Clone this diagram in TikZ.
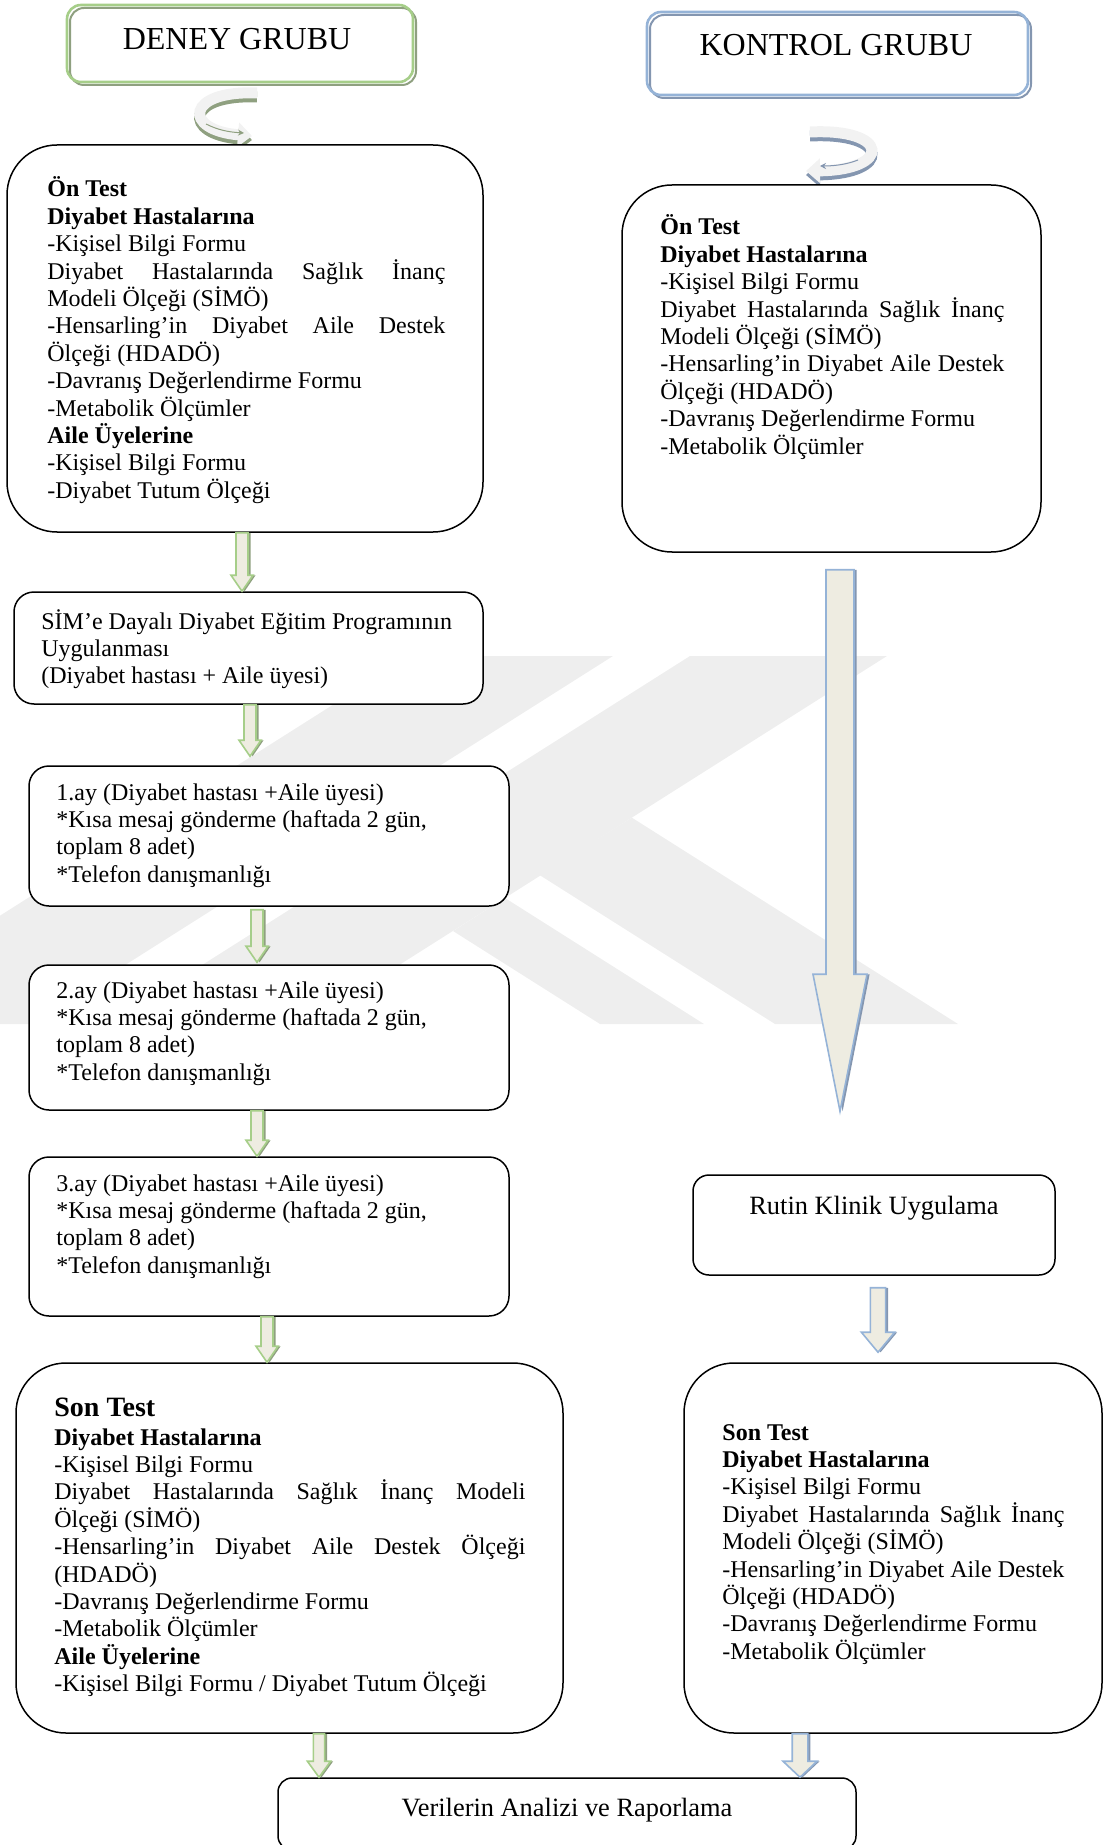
\documentclass[tikz,border=0pt]{standalone}
\usepackage{fontspec}
\setmainfont{Liberation Serif}
\usetikzlibrary{calc,arrows.meta}

\definecolor{grline}{RGB}{166,206,137}
\definecolor{grshadow}{RGB}{143,160,128}
\definecolor{blline}{RGB}{149,179,215}
\definecolor{blshadow}{RGB}{132,150,176}
\definecolor{arrfill}{RGB}{238,236,225}
\definecolor{curvefill}{RGB}{242,242,242}
\definecolor{wmark}{RGB}{238,238,238}

% multi-line text block whose reference point is the first baseline
\newcommand{\textblock}[2]{\parbox[t]{#1}{\fontsize{12pt}{13.7pt}\selectfont #2}}
% a line stretched to the full width of the block
\newcommand{\jl}[1]{\makebox[\linewidth][s]{#1}}

% block arrow pointing down: #1 start, #2 tip, #3 x (px), #4 half shaft,
% #5 half head, #6 head length, #7 outline colour, #8 shadow colour
\newcommand{\blockarrow}[8]{%
  \fill[#8, shift={(1.3pt,-1.2pt)}] let \p1=#1, \p2=#2, \p3=(#3,0) in
    (\x3-#4,\y1) -- (\x3+#4,\y1) -- (\x3+#4,\y2+#6) -- (\x3+#5,\y2+#6)
    -- (\x3,\y2) -- (\x3-#5,\y2+#6) -- (\x3-#4,\y2+#6) -- cycle;
  \filldraw[fill=arrfill, draw=#7, line width=0.8pt, line join=miter]
    let \p1=#1, \p2=#2, \p3=(#3,0) in
    (\x3-#4,\y1) -- (\x3+#4,\y1) -- (\x3+#4,\y2+#6) -- (\x3+#5,\y2+#6)
    -- (\x3,\y2) -- (\x3-#5,\y2+#6) -- (\x3-#4,\y2+#6) -- cycle;
}

\tikzset{
  flowbox/.style={draw=black, line width=0.75pt, fill=white, inner sep=0pt},
  hdr/.style={draw=#1, line width=1.3pt, rounded corners=7pt, inner sep=0pt},
  hdrshadow/.style={draw=#1, line width=1pt, fill=white, rounded corners=7pt, inner sep=0pt},
  txt/.style={inner sep=0pt, anchor=base west},
  title/.style={inner sep=0pt, anchor=base, font=\fontsize{16pt}{19pt}\selectfont},
  label13/.style={inner sep=0pt, anchor=base, font=\fontsize{13.2pt}{16pt}\selectfont},
  turn/.style={line width=5.5pt, -{Triangle[width=12pt,length=7pt]}},
}

\begin{document}
\begin{tikzpicture}[x=0.5pt,y=-0.5pt]
\useasboundingbox (0,0) rectangle (1103,1845);
\clip (0,0) rectangle (1103,1845);

% ---------- faint background emblem ----------
\fill[wmark] (410,656) -- (613,656) -- (32,1024) -- (-171,1024) -- cycle;
\fill[wmark] (690,656) -- (887,656) -- (306,1024) -- (109,1024) -- cycle;
\fill[wmark] (539.5,875) -- (631.8,817.6) -- (958,1024) -- (775,1024) -- cycle;
\fill[wmark] (453,931) -- (505,898) -- (704,1024) -- (600,1024) -- cycle;

% ---------- group headers ----------
\node[hdrshadow=grshadow, minimum width=173pt, minimum height=38.5pt] (h1s) at (243,46.5) {};
\node[hdr=grline, minimum width=173pt, minimum height=38.5pt] (h1) at (240,43.5) {};
\node[title] (h1t) at (237,50) {DENEY GRUBU};

\node[hdrshadow=blshadow, minimum width=190.5pt, minimum height=41.5pt] (h2s) at (840.5,56.5) {};
\node[hdr=blline, minimum width=190.5pt, minimum height=41.5pt] (h2) at (837.5,53.5) {};
\node[title] (h2t) at (836,56) {KONTROL GRUBU};

% ---------- turning arrows under the headers ----------
\draw[turn, grshadow, yshift=-2pt] (257,93) .. controls (186,90) and (182,130) .. (252,136);
\draw[turn, curvefill] (257,93) .. controls (186,90) and (182,130) .. (252,136);
\draw[grshadow, line width=0.5pt, -{Stealth[length=3pt,width=3pt]}] (206,124) .. controls (218,130) and (228,132) .. (244,133);

\draw[turn, blshadow, yshift=-2pt] (810,132) .. controls (890,128) and (892,170) .. (806,171);
\draw[turn, curvefill] (810,132) .. controls (890,128) and (892,170) .. (806,171);
\draw[blshadow, line width=0.5pt, -{Stealth[length=3pt,width=3pt]}] (858,160) .. controls (848,164) and (836,166) .. (820,166);

% ---------- experimental group ----------
\node[flowbox, rounded corners=25pt, minimum width=238pt, minimum height=193.5pt] (b1) at (245,338.5) {};
\node[txt] (t1) at (47,197) {\textblock{199pt}{%
  \textbf{Ön Test}\\
  \textbf{Diyabet Hastalarına}\\
  -Kişisel Bilgi Formu\\
  \jl{Diyabet Hastalarında Sağlık İnanç}\\
  Modeli Ölçeği (SİMÖ)\\
  \jl{-Hensarling’in Diyabet Aile Destek}\\
  Ölçeği (HDADÖ)\\
  -Davranış Değerlendirme Formu\\
  -Metabolik Ölçümler\\
  \textbf{Aile Üyelerine}\\
  -Kişisel Bilgi Formu\\
  -Diyabet Tutum Ölçeği}};

\node[flowbox, rounded corners=10pt, minimum width=234.5pt, minimum height=56pt] (b2) at (248.5,648) {};
\node[txt] (t2) at (41,629) {\textblock{225pt}{%
  SİM’e Dayalı Diyabet Eğitim Programının\\
  Uygulanması\\
  (Diyabet hastası + Aile üyesi)}};

\node[flowbox, rounded corners=10pt, minimum width=240pt, minimum height=70pt] (b3) at (269,836) {};
\node[txt] (t3) at (56,800) {\textblock{225pt}{%
  1.ay (Diyabet hastası +Aile üyesi)\\
  {*}Kısa mesaj gönderme (haftada 2 gün,\\
  toplam 8 adet)\\
  {*}Telefon danışmanlığı}};

\node[flowbox, rounded corners=10pt, minimum width=240pt, minimum height=72.5pt] (b4) at (269,1037.5) {};
\node[txt] (t4) at (56,998) {\textblock{225pt}{%
  2.ay (Diyabet hastası +Aile üyesi)\\
  {*}Kısa mesaj gönderme (haftada 2 gün,\\
  toplam 8 adet)\\
  {*}Telefon danışmanlığı}};

\node[flowbox, rounded corners=10pt, minimum width=240pt, minimum height=79.5pt] (b5) at (269,1236.5) {};
\node[txt] (t5) at (56,1191) {\textblock{225pt}{%
  3.ay (Diyabet hastası +Aile üyesi)\\
  {*}Kısa mesaj gönderme (haftada 2 gün,\\
  toplam 8 adet)\\
  {*}Telefon danışmanlığı}};

\node[flowbox, rounded corners=25pt, minimum width=273.5pt, minimum height=185pt] (b6) at (289.5,1548) {};
\node[txt] (t6) at (54,1416) {\textblock{235.5pt}{%
  {\fontsize{14pt}{16pt}\selectfont\textbf{Son Test}}\\[0.8pt]
  \textbf{Diyabet Hastalarına}\\
  -Kişisel Bilgi Formu\\
  \jl{Diyabet Hastalarında Sağlık İnanç Modeli}\\
  Ölçeği (SİMÖ)\\
  \jl{-Hensarling’in Diyabet Aile Destek Ölçeği}\\
  (HDADÖ)\\
  -Davranış Değerlendirme Formu\\
  -Metabolik Ölçümler\\
  \textbf{Aile Üyelerine}\\
  -Kişisel Bilgi Formu / Diyabet Tutum Ölçeği}};

% ---------- control group ----------
\node[flowbox, rounded corners=25pt, minimum width=209.5pt, minimum height=183.5pt] (r1) at (831.5,368.5) {};
\node[txt] (tr1) at (660,235) {\textblock{172pt}{%
  \textbf{Ön Test}\\
  \textbf{Diyabet Hastalarına}\\
  -Kişisel Bilgi Formu\\
  \jl{Diyabet Hastalarında Sağlık İnanç}\\
  Modeli Ölçeği (SİMÖ)\\
  \jl{-Hensarling’in Diyabet Aile Destek}\\
  Ölçeği (HDADÖ)\\
  -Davranış Değerlendirme Formu\\
  -Metabolik Ölçümler}};

\node[flowbox, rounded corners=8pt, minimum width=181pt, minimum height=50pt] (r2) at (874,1225) {};
\node[label13] (tr2) at (874,1214) {Rutin Klinik Uygulama};

\node[flowbox, rounded corners=25pt, minimum width=209pt, minimum height=185pt] (r3) at (893,1548) {};
\node[txt] (tr3) at (722,1440) {\textblock{171pt}{%
  \textbf{Son Test}\\
  \textbf{Diyabet Hastalarına}\\
  -Kişisel Bilgi Formu\\
  \jl{Diyabet Hastalarında Sağlık İnanç}\\
  Modeli Ölçeği (SİMÖ)\\
  \jl{-Hensarling’in Diyabet Aile Destek}\\
  Ölçeği (HDADÖ)\\
  -Davranış Değerlendirme Formu\\
  -Metabolik Ölçümler}};

% ---------- final step ----------
\node[flowbox, rounded corners=7pt, minimum width=289pt, minimum height=36pt] (b7) at (567,1814) {};
\node[label13] (t7) at (567,1816) {Verilerin Analizi ve Raporlama};

% ---------- block arrows ----------
\blockarrow{(b1.south)}{(b2.north)}{242}{3pt}{5.5pt}{8pt}{grline}{grshadow}
\blockarrow{(b2.south)}{($(b3.north)+(0,-9)$)}{250}{3pt}{5.5pt}{8pt}{grline}{grshadow}
\blockarrow{($(b3.south)+(0,3)$)}{($(b4.north)+(0,-2)$)}{257}{3pt}{5.5pt}{8pt}{grline}{grshadow}
\blockarrow{(b4.south)}{(b5.north)}{257}{3pt}{5.5pt}{8pt}{grline}{grshadow}
\blockarrow{(b5.south)}{(b6.north)}{267}{3pt}{5.5pt}{8pt}{grline}{grshadow}
\blockarrow{(b6.south)}{(b7.north)}{319}{2.8pt}{5.8pt}{8pt}{grline}{grshadow}

\blockarrow{($(r1.south)+(0,17)$)}{($(r2.north)+(0,-63)$)}{840}{7pt}{13.5pt}{68.5pt}{blline}{blshadow}
\blockarrow{($(r2.south)+(0,12)$)}{($(r3.north)+(0,-10)$)}{878}{3.8pt}{8.3pt}{10pt}{blline}{blshadow}
\blockarrow{(r3.south)}{(b7.north)}{800}{3.9pt}{8.5pt}{8pt}{blline}{blshadow}

\end{tikzpicture}
\end{document}
